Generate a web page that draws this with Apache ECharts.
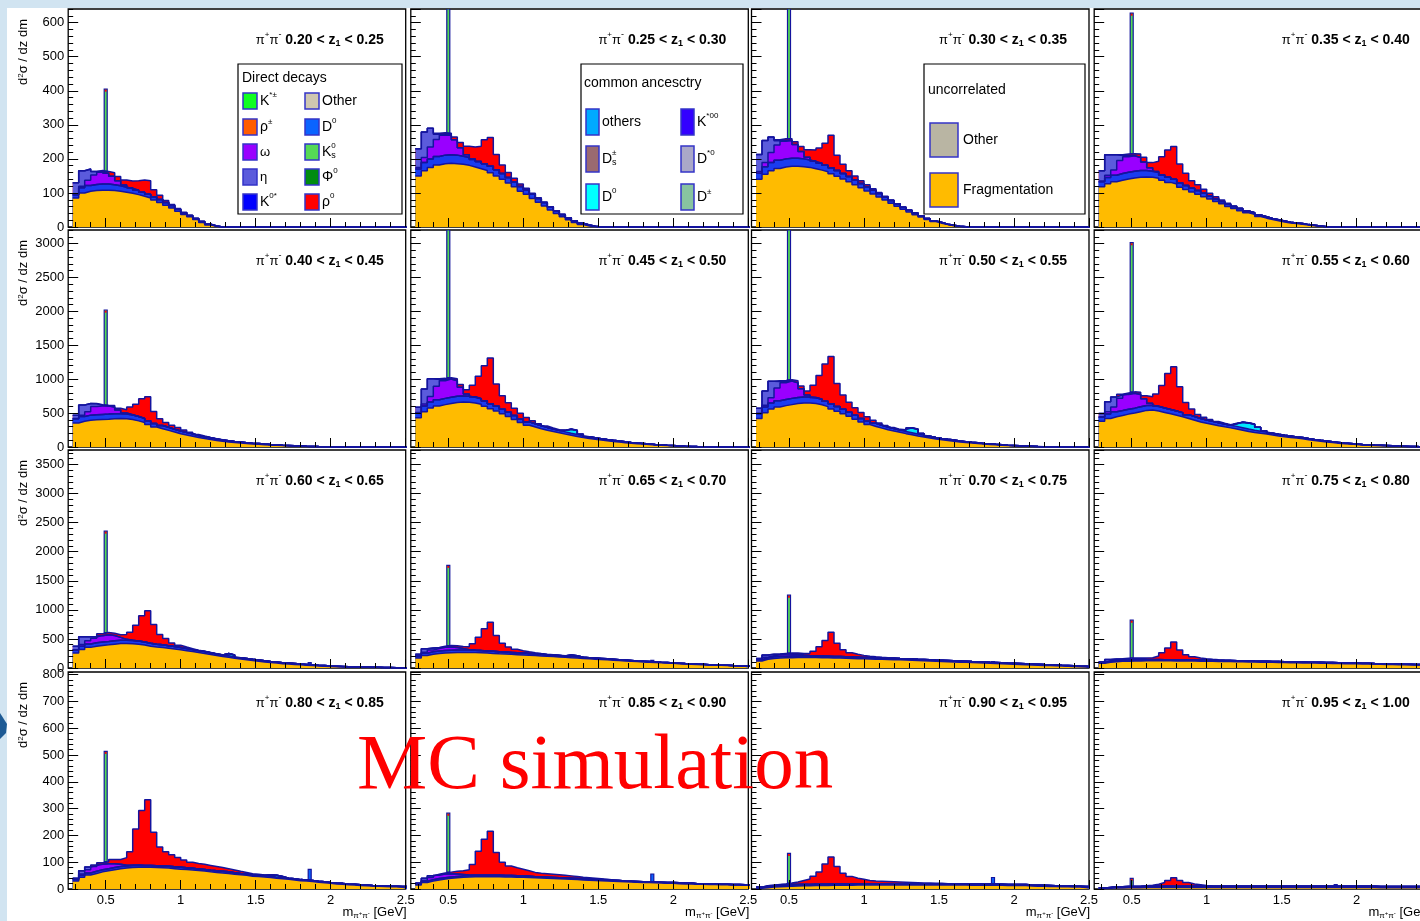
<!DOCTYPE html>
<html>
<head>
<meta charset="utf-8">
<script src="https://cdn.jsdelivr.net/npm/echarts@6/dist/echarts.min.js"></script>
<style>
html,body{margin:0;padding:0;background:#d1e4f1;}
#bg{position:absolute;left:7px;top:8px;width:1413px;height:913px;background:#fff;}
#chart{position:absolute;left:0;top:0;width:1420px;height:921px;}
</style>
</head>
<body>
<div id="bg"></div>
<div id="chart"></div>
<script>
// z1 bin edges of the 16 pads
var zEdges = ['0.20','0.25','0.30','0.35','0.40','0.45','0.50','0.55','0.60','0.65','0.70','0.75','0.80','0.85','0.90','0.95','1.00'];

// mass binning (GeV)
var binLow = 0.28, binWidth = 0.04, nBins = 56;

// y axis per row
var yMax = [640, 3200, 3750, 810];
var yMajor = [100, 500, 500, 100];
var yMinor = [20, 100, 100, 20];
// x ticks
var xMajorTicks = [0.5, 1, 1.5, 2, 2.5];
var xMinorTicks = [0.3,0.4,0.6,0.7,0.8,0.9,1.1,1.2,1.3,1.4,1.6,1.7,1.8,1.9,2.1,2.2,2.3,2.4];

// stacked layers, one row per pad, bins of 0.04 GeV starting at 0.28
var fragmentation = [
  [85,100,105,107,108,108,107,105,102,99,95,90,85,79,72,64,56,46,37,30,22,13,6,2],
  [150,165,175,182,186,187,186,184,181,176,171,166,159,150,140,129,118,105,96,84,73,62,50,40,30,21,13,7,3,1],
  [140,155,165,172,176,178,178,177,175,171,167,162,156,149,141,133,124,115,106,97,88,79,70,61,52,44,36,29,22,16,11,7,4,2,1],
  [118,127,133,137,141,144,146,147,146,143,137,131,126,117,110,103,96,89,82,75,68,60,54,48,42,37,31,26,22,18,15,12,10,8,6,4,2,1],
  [355,380,395,402,406,410,416,420,415,405,385,362,330,295,268,245,220,196,177,160,140,124,110,95,84,75,67,60,52,45,40,34,29,25,21,18,15,12,9,7,5,4,2,1],
  [430,520,575,605,625,640,655,662,660,650,630,600,565,530,490,450,405,360,320,295,270,248,228,210,190,172,155,140,126,113,102,91,81,72,64,56,49,43,37,31,26,21,17,13,10,7,5,3,2,1],
  [420,505,560,590,610,625,640,648,648,640,622,595,562,528,490,452,410,368,330,303,278,255,235,216,197,180,163,147,132,118,106,95,85,75,66,58,51,44,38,32,27,22,18,14,11,8,6,4,3,2,1],
  [380,420,447,465,485,500,520,540,545,530,510,490,468,447,420,395,370,350,332,314,297,282,266,248,230,215,203,192,178,163,150,141,131,122,108,96,85,75,65,57,49,43,37,31,27,23,20,17,13,10,8,6,4,2,1],
  [260,320,355,375,388,398,410,420,422,418,410,395,375,362,352,340,326,312,297,282,265,250,233,215,198,183,168,154,141,128,116,104,93,84,75,68,61,54,48,42,36,31,26,23,20,17,15,13,11,9,7,6,4,3,2,1],
  [170,215,238,250,258,262,266,268,268,266,262,257,251,245,240,235,230,225,220,214,208,202,196,190,183,176,170,164,158,152,146,140,134,128,122,116,110,105,100,95,90,85,80,75,70,66,62,58,54,50,46,43,40,37,34,31],
  [120,150,165,172,176,178,180,181,181,180,178,176,173,170,167,164,161,158,155,152,149,146,143,140,137,133,129,125,121,117,113,109,105,101,97,93,89,85,81,77,73,69,65,61,57,53,49,45,41,37,33,29,25,21,17,13],
  [80,98,108,114,118,120,122,123,124,124,124,123,122,121,120,119,118,116,115,113,112,110,108,106,105,103,101,99,97,96,94,92,90,88,86,84,83,81,79,77,75,73,71,69,67,65,63,61,59,57,55,53,51,49,47,45],
  [30,44,52,58,64,68,72,76,78,80,81,81,81,80,79,78,76,74,73,71,69,67,64,62,60,58,55,53,51,48,47,45,43,40,38,36,34,31,30,28,25,23,21,19,18,16,15,13,12,11,10,9,8,8,7,7],
  [15,24,30,34,37,40,42,44,45,46,46,46,46,46,45,45,44,44,43,42,41,40,39,38,37,36,35,34,33,32,31,30,29,28,27,26,25,24,24,23,22,21,21,20,19,19,18,18,17,17,16,16,15,15,14,14],
  [3,5,7,8,9,10,11,12,12,13,13,13,14,14,14,14,15,15,15,15,15,15,15,15,15,15,15,15,15,15,15,15,15,15,15,14,14,14,14,14,14,13,13,13,13,11,10,10,9,9,8,8,7,7,6,6],
  [2,3,4,4,5,5,5,6,6,6,6,6,6,6,6,6,6,6,6,6,6,6,6,6,6,6,6,6,6,6,6,6,6,6,6,6,6,6,6,6,6,6,6,6,6,6,5,5,5,5,5,5,5,5,5,5]
];

// K0*, D0 and the other thin blue contributions
var blueBand = [
  [10,15,17,18,18,18,17,16,15,14,13,12,11,10,9,8,7,6,5,4,3,3,2,1],
  [20,24,25,25,25,25,25,24,23,22,21,20,19,18,17,16,15,14,13,12,11,10,9,8,7,6,5,4,3,1],
  [18,22,24,24,24,24,24,23,22,21,20,19,18,17,16,15,14,13,12,11,10,9,8,7,6,5,5,4,3,2,2,1,1],
  [15,18,19,20,20,20,20,19,18,17,16,15,14,13,12,11,11,10,9,8,7,7,6,6,5,5,4,4,3,3,3,2,2,2,1,1,1],
  [60,70,75,75,75,75,75,72,70,67,64,60,56,52,48,45,42,40,37,34,31,28,25,22,20,18,16,14,12,11,10,9,8,7,6,5,4,3,2,2,1,1],
  [70,85,90,92,92,92,92,90,88,85,82,78,74,70,66,62,58,54,50,47,44,41,38,35,33,31,29,27,25,23,21,19,17,15,13,11,10,9,8,7,6,5,4,3,2,2,1,1],
  [70,84,90,91,92,92,91,90,88,85,81,78,74,70,66,62,58,54,50,47,44,41,38,35,33,31,29,27,25,23,21,19,17,15,13,11,10,9,8,7,6,5,4,3,2,2,1,1],
  [60,68,72,73,73,73,73,72,70,68,66,64,62,60,57,54,51,48,46,44,42,40,38,36,34,32,30,28,26,24,22,20,18,17,16,15,14,13,12,11,10,9,8,7,6,5,5,4,4,3,3,2,2,1,1],
  [50,56,58,58,58,58,58,57,56,55,54,52,50,48,46,44,42,40,38,36,34,32,30,28,27,26,25,24,23,22,21,20,19,18,17,16,15,14,13,12,11,10,9,8,7,6,6,5,5,4,4,3,3,2,2,1],
  [35,40,42,42,42,42,42,41,40,39,38,37,36,35,34,33,32,31,30,29,28,27,26,25,24,23,22,21,20,19,18,17,16,15,14,13,12,11,10,9,8,8,7,7,6,6,5,5,4,4,3,3,2,2,1,1],
  [22,26,28,28,28,28,28,28,27,27,27,26,26,26,25,25,25,24,24,24,23,23,23,22,22,22,21,21,21,20,20,20,19,19,19,18,18,18,17,17,17,16,16,16,15,15,15,14,14,14,13,13,13,12,12,12],
  [15,18,20,20,20,20,20,20,20,20,19,19,19,19,19,18,18,18,18,18,17,17,17,17,17,16,16,16,16,16,15,15,15,15,15,14,14,14,14,14,13,13,13,13,13,12,12,12,12,12,11,11,11,11,11,10],
  [6,7,8,8,8,8,8,8,8,8,8,7,7,7,7,7,7,7,6,6,6,6,6,6,6,6,6,5,5,5,5,5,5,5,5,4,4,4,4,4,4,4,3,3,3,3,3,3,3,2,2,2,2,2,2,2],
  [4,5,5,5,5,5,5,5,5,5,5,5,5,5,5,5,5,5,5,4,4,4,4,4,4,4,4,4,4,4,4,4,4,4,3,3,3,3,3,3,3,3,3,3,3,3,2,2,2,2,2,2,2,2,2,2],
  [3,4,4,5,5,5,5,5,5,5,5,5,5,5,5,5,5,5,5,5,5,5,5,5,5,5,5,5,5,5,5,5,5,5,5,5,5,5,5,5,4,4,4,4,4,4,4,4,4,3,3,3,3,3,3,3],
  [2,3,4,4,4,4,4,4,4,4,4,4,4,4,4,4,4,4,4,4,4,4,4,4,4,4,4,4,4,4,4,4,4,4,4,4,4,4,4,4,4,4,4,4,4,4,4,4,4,4,4,4,4,4,4,4]
];

// common-ancestry cyan bits: first bin index and values
var cyanFrom = [0,0,0,0, 0,24,24,22, 25,25,0,0, 32,0,0,0];
var cyanBits = [[],[],[],[], [],[20,60,60,20],[20,70,70,25],[40,80,90,90,60,20], [40,30],[25,20],[],[], [4,6,4],[],[],[]];

var omega = [
  [0,5,15,28,35,32,25,15,6,2],
  [5,15,35,50,58,58,45,25,8,2],
  [5,12,30,45,52,52,40,22,8,2],
  [2,7,15,38,45,45,38,25,10,3],
  [5,20,50,120,125,120,100,55,15,3],
  [8,30,80,200,260,270,230,130,35,5],
  [8,28,75,190,245,255,215,120,30,5],
  [5,30,70,180,215,220,180,100,30,5],
  [5,30,55,80,110,115,90,50,15,3],
  [3,15,30,45,55,58,45,25,8,2],
  [2,8,18,28,35,35,28,15,5,1],
  [1,5,10,16,20,20,16,9,3,1],
  [0,5,12,18,20,18,14,8,3,1],
  [0,3,8,12,14,12,9,5,2],
  [0,1,2,3,3,3,2,1],
  []
];

var eta = [
  [35,45,33,10,3],
  [55,75,55,15,4],
  [50,65,45,12,3],
  [30,60,45,15,4],
  [50,150,120,40,10],
  [80,220,260,100,20],
  [75,210,245,95,20],
  [50,150,150,50,10],
  [60,130,70,20,5],
  [30,60,35,10,3],
  [20,40,25,8,2],
  [12,25,15,5,1],
  [4,12,10,4],
  [3,8,6,2],
  [1,2,1],
  []
];

var rho0 = [
  [0,0,0,0,2,5,10,12,15,20,28,36,40,20,12,6,3,2,1],
  [0,0,0,3,4,5,8,15,25,35,45,70,85,45,25,15,10,7,5,3,2,1],
  [0,0,0,3,4,5,8,14,22,32,45,65,95,45,27,17,12,8,6,4,3,2,1],
  [0,0,0,2,4,6,10,14,15,30,53,80,96,55,36,22,17,12,8,6,4,3,2,1],
  [0,0,0,5,8,10,20,25,50,115,180,290,356,175,100,70,60,50,37,25,15,10,6,4,2,1],
  [0,0,0,10,15,20,30,40,60,170,330,520,675,330,200,140,110,85,65,45,30,20,14,9,6,4,2,1],
  [0,0,0,10,15,20,30,40,60,180,350,550,700,340,210,145,112,88,66,46,31,21,14,9,6,4,2,1],
  [0,0,0,10,15,20,35,45,95,180,330,530,654,380,180,110,60,42,28,18,12,8,5,3,2,1],
  [0,0,0,5,30,40,40,45,85,140,270,450,558,340,180,125,62,40,25,12,8,5,3,2,1],
  [0,0,0,5,15,25,30,35,50,110,230,380,500,280,150,95,62,42,28,18,12,8,5,3,2,1],
  [0,0,0,5,10,15,20,25,40,80,160,270,415,230,120,75,50,35,25,17,12,8,5,3,2,1],
  [0,0,0,4,8,12,15,20,30,60,120,200,305,170,90,55,37,25,17,12,8,5,3,2,1],
  [0,0,0,2,6,8,16,18,28,50,135,205,245,125,71,54,45,37,29,23,20,19,18,16,14,12,10,8,6,4,3,2,1],
  [0,0,0,2,4,6,10,14,20,40,90,135,165,85,50,36,30,25,20,16,14,13,12,11,10,9,8,6,5,4,3,2,1],
  [0,0,0,1,2,4,8,14,20,30,45,75,100,65,40,28,20,16,12,10,9,8,7,6,5,4,3,2,2,1,1],
  [0,0,0,0,0,0,1,2,4,8,14,22,32,22,14,9,6,3,1]
];

// narrow peaks: K0s at 0.50 and D0 at 1.86 (top of the stack)
var kShortTop = [405,700,700,628, 2020,3500,3500,3013, 2356,1767,1252,823, 514,283,133,40];
var dZeroTop  = [0,0,0,0, 0,0,0,0, 92,130,110,90, 73,56,43,16];

var FONT = '"Liberation Sans", Arial, Helvetica, sans-serif';
var OUTLINE = '#14149e';
var gridLeft = [68.2, 410.8, 751.5, 1094.2];
var gridTop = [9, 230, 450, 672];
var gridHeight = [218, 217, 218, 217];
var gridWidth = 337.5;

var measure = document.createElement('canvas').getContext('2d');
function tw(s, size, bold) {
  measure.font = (bold ? 'bold ' : '') + size + 'px ' + FONT;
  return measure.measureText(s).width;
}
// lay text pieces on a line (for super/subscripts)
function richLine(x, y, pieces, align, z) {
  var ws = pieces.map(function (p) { return p.adv === false ? 0 : tw(p.t, p.s, p.b); });
  var total = ws.reduce(function (a, b) { return a + b; }, 0);
  var cx = align === 'right' ? x - total : x;
  var out = [];
  pieces.forEach(function (p, i) {
    out.push({type: 'text', z: z || 50, x: cx, y: y + (p.dy || 0), silent: true,
      style: {text: p.t, fontSize: p.s, fontWeight: p.b ? 'bold' : 'normal', fontFamily: FONT,
        fill: p.c || '#000', align: 'left', verticalAlign: 'middle'}});
    cx += ws[i];
  });
  return out;
}

var edges = [];
for (var k = 0; k <= nBins; k++) edges.push(+(binLow + k * binWidth).toFixed(2));

function layerVal(p, name, k) {
  if (name === 'cyan') {
    var j = k - cyanFrom[p];
    return j >= 0 && j < cyanBits[p].length ? cyanBits[p][j] : 0;
  }
  var arr = {frag: fragmentation, band: blueBand, omega: omega, eta: eta, rho: rho0}[name][p];
  return arr[k] || 0;
}
// bottom to top
var layers = [
  {key: 'frag', name: 'Fragmentation', color: '#ffbb00'},
  {key: 'band', name: 'K0* / D0', color: '#1a3cf0'},
  {key: 'cyan', name: 'D0 common', color: '#00e8ff'},
  {key: 'omega', name: 'omega', color: '#9900ff'},
  {key: 'eta', name: 'eta', color: '#5b5bdc'},
  {key: 'rho', name: 'rho0', color: '#ff0000'}
];
// cumulative top of layer li in bin k
function cumulative(p, li, k) {
  var s = 0;
  for (var i = 0; i <= li; i++) s += layerVal(p, layers[i].key, k);
  return s;
}

var grids = [], xAxes = [], yAxes = [], series = [], graphics = [];
var labelStyle = {color: '#000', fontSize: 13, fontFamily: FONT};

for (var p = 0; p < 16; p++) {
  var r = Math.floor(p / 4), c = p % 4;
  grids.push({left: gridLeft[c], top: gridTop[r], width: gridWidth, height: gridHeight[r],
    outerBoundsMode: 'none', containLabel: false,
    show: true, borderColor: '#000', borderWidth: 1.3, backgroundColor: 'transparent'});

  // axes are drawn above the histograms, as in the original pads
  xAxes.push({gridIndex: p, type: 'value', min: 0.25, max: 2.5, position: 'bottom', z: 10,
    axisLine: {show: false, onZero: false}, splitLine: {show: false},
    axisTick: {inside: true, length: 9, lineStyle: {color: '#000', width: 1}, customValues: xMajorTicks},
    axisLabel: Object.assign({show: r === 3, margin: 5, customValues: xMajorTicks}, labelStyle)});
  xAxes.push({gridIndex: p, type: 'value', min: 0.25, max: 2.5, position: 'bottom', z: 10,
    axisLine: {show: false, onZero: false}, splitLine: {show: false},
    axisTick: {inside: true, length: 5, lineStyle: {color: '#000', width: 1}, customValues: xMinorTicks},
    axisLabel: {show: false}});
  yAxes.push({gridIndex: p, type: 'value', min: 0, max: yMax[r], interval: yMajor[r], position: 'left', z: 10,
    axisLine: {show: false, onZero: false}, splitLine: {show: false},
    axisTick: {inside: true, length: 10, lineStyle: {color: '#000', width: 1}},
    axisLabel: Object.assign({show: c === 0, margin: 4, showMaxLabel: false,
      formatter: function (v) { return String(v); }}, labelStyle)});
  yAxes.push({gridIndex: p, type: 'value', min: 0, max: yMax[r], interval: yMinor[r], position: 'left', z: 10,
    axisLine: {show: false, onZero: false}, splitLine: {show: false},
    axisTick: {inside: true, length: 5, lineStyle: {color: '#000', width: 1}},
    axisLabel: {show: false}});

  // painter's order: the full stack first, then each lower partial sum on top of it
  for (var li = layers.length - 1; li >= 0; li--) {
    series.push({
      type: 'line', name: layers[li].name, xAxisIndex: 2 * p, yAxisIndex: 2 * p,
      step: 'end', symbol: 'none', silent: true, clip: true, animation: false,
      lineStyle: {color: OUTLINE, width: 1.5},
      areaStyle: {color: layers[li].color, opacity: 1},
      data: edges.map(function (x, k) { return [x, k < nBins ? cumulative(p, li, k) : 0]; })
    });
  }

  // narrow peaks on top of the stack
  var peaks = [[0.49, 0.51, cumulative(p, layers.length - 1, 5), kShortTop[p], '#55d955']];
  if (dZeroTop[p] > 0) peaks.push([1.85, 1.87, cumulative(p, layers.length - 1, 39), dZeroTop[p], '#0a64ff']);
  series.push({
    type: 'custom', xAxisIndex: 2 * p, yAxisIndex: 2 * p, silent: true, animation: false, clip: true, z: 3,
    data: peaks.map(function (d) { return d.slice(0, 4); }),
    renderItem: (function (peaks) {
      return function (params, api) {
        var a = api.coord([api.value(0), api.value(3)]);
        var b = api.coord([api.value(1), api.value(2)]);
        var cs = params.coordSys;
        var top = Math.max(a[1], cs.y);
        var kids = [{type: 'rect', shape: {x: a[0], y: top, width: b[0] - a[0], height: b[1] - top},
          style: {fill: peaks[params.dataIndex][4], stroke: OUTLINE, lineWidth: 1.2}}];
        if (params.dataIndex === 0 && a[1] > cs.y + 2) {
          kids.push({type: 'rect', shape: {x: a[0] + 0.6, y: a[1] + 0.6, width: b[0] - a[0] - 1.2, height: 2},
            style: {fill: '#ff0000'}});
        }
        return {type: 'group', children: kids};
      };
    })(peaks)
  });

  // pad title
  var xr = gridLeft[c] + gridWidth - 22, yc = gridTop[r] + 31;
  graphics = graphics.concat(richLine(xr, yc, [
    {t: 'π', s: 13}, {t: '+', s: 8, dy: -5}, {t: 'π', s: 13}, {t: '-', s: 9, dy: -5},
    {t: ' ' + zEdges[p] + ' < z', s: 14, b: 1}, {t: '1', s: 9, b: 1, dy: 4},
    {t: ' < ' + zEdges[p + 1], s: 14, b: 1}
  ], 'right'));
}

// y axis titles
for (var rr = 0; rr < 4; rr++) {
  graphics.push({type: 'text', z: 50, x: 23, y: gridTop[rr] + 43, rotation: Math.PI / 2, silent: true,
    style: {text: '{a|d}{s|2}{a|σ / dz dm}', align: 'center', verticalAlign: 'middle',
      rich: {a: {fontSize: 13, fontFamily: FONT, fill: '#000'},
             s: {fontSize: 8, fontFamily: FONT, fill: '#000', verticalAlign: 'top'}}}});
}
// x axis titles
for (var cc = 0; cc < 4; cc++) {
  graphics = graphics.concat(richLine(gridLeft[cc] + gridWidth + 1, 912, [
    {t: 'm', s: 13}, {t: 'π', s: 8, dy: 4}, {t: '+', s: 6, dy: 1}, {t: 'π', s: 8, dy: 4}, {t: '-', s: 6, dy: 1},
    {t: ' [GeV]', s: 13}
  ], 'right'));
}

// legends
function box(x, y, w, h) {
  return {type: 'rect', z: 40, silent: true, shape: {x: x, y: y, width: w, height: h},
    style: {fill: '#fff', stroke: '#000', lineWidth: 1.2}};
}
function swatch(x, y, w, h, color) {
  return {type: 'rect', z: 45, silent: true, shape: {x: x, y: y, width: w, height: h},
    style: {fill: color, stroke: '#3434c8', lineWidth: 1.5}};
}
var legendDirect = [
  {x: 243, y: 101, color: '#11ff22', label: [{t: 'K', s: 14}, {t: '*±', s: 8, dy: -6}]},
  {x: 243, y: 127, color: '#ff5c00', label: [{t: 'ρ', s: 14}, {t: '±', s: 8, dy: -5}]},
  {x: 243, y: 152, color: '#9900ff', label: [{t: 'ω', s: 13}]},
  {x: 243, y: 177, color: '#5b5bdc', label: [{t: 'η', s: 13}]},
  {x: 243, y: 202, color: '#0000ff', label: [{t: 'K', s: 14}, {t: '0*', s: 8, dy: -6}]},
  {x: 305, y: 101, color: '#cfc7b0', label: [{t: 'Other', s: 14}]},
  {x: 305, y: 127, color: '#0a64ff', label: [{t: 'D', s: 14}, {t: '0', s: 8, dy: -6}]},
  {x: 305, y: 152, color: '#55d955', label: [{t: 'K', s: 14}, {t: '0', s: 8, dy: -6, adv: false}, {t: 's', s: 9, dy: 4}]},
  {x: 305, y: 177, color: '#008c10', label: [{t: 'Φ', s: 14}, {t: '0', s: 8, dy: -6}]},
  {x: 305, y: 202, color: '#ff0000', label: [{t: 'ρ', s: 14}, {t: '0', s: 8, dy: -6}]}
];
var legendCommon = [
  {x: 586, y: 122, color: '#00aaff', label: [{t: 'others', s: 14}]},
  {x: 586, y: 159, color: '#9a6a70', label: [{t: 'D', s: 14}, {t: '±', s: 8, dy: -6, adv: false}, {t: 's', s: 9, dy: 4}]},
  {x: 586, y: 197, color: '#00ffff', label: [{t: 'D', s: 14}, {t: '0', s: 8, dy: -6}]},
  {x: 681, y: 122, color: '#3300ff', label: [{t: 'K', s: 14}, {t: '*00', s: 8, dy: -6}]},
  {x: 681, y: 159, color: '#aaa8c8', label: [{t: 'D', s: 14}, {t: '*0', s: 8, dy: -6}]},
  {x: 681, y: 197, color: '#88c4a0', label: [{t: 'D', s: 14}, {t: '±', s: 8, dy: -5}]}
];
var legendUncorr = [
  {x: 930, y: 140, color: '#b9b5a3', label: [{t: 'Other', s: 14}]},
  {x: 930, y: 190, color: '#ffbb00', label: [{t: 'Fragmentation', s: 14}]}
];

graphics.push(box(238, 64, 164, 150));
graphics = graphics.concat(richLine(242, 78, [{t: 'Direct decays', s: 14}], 'left', 46));
legendDirect.forEach(function (e) {
  graphics.push(swatch(e.x, e.y - 8, 14, 16, e.color));
  graphics = graphics.concat(richLine(e.x + 17, e.y, e.label, 'left', 46));
});
graphics.push(box(581, 64, 162, 150));
graphics = graphics.concat(richLine(584, 83, [{t: 'common ancesctry', s: 14}], 'left', 46));
legendCommon.forEach(function (e) {
  graphics.push(swatch(e.x, e.y - 13, 13, 26, e.color));
  graphics = graphics.concat(richLine(e.x + 16, e.y, e.label, 'left', 46));
});
graphics.push(box(924, 64, 161, 150));
graphics = graphics.concat(richLine(928, 90, [{t: 'uncorrelated', s: 14}], 'left', 46));
legendUncorr.forEach(function (e) {
  graphics.push(swatch(e.x, e.y - 17, 28, 34, e.color));
  graphics = graphics.concat(richLine(e.x + 33, e.y, e.label, 'left', 46));
});

// overlay label and the slide decoration on the left edge
graphics.push({type: 'text', z: 60, x: 357, y: 767, silent: true,
  style: {text: 'MC simulation', fontSize: 79, fontFamily: '"Liberation Serif", "Times New Roman", serif',
    fill: '#ff0000', align: 'left', verticalAlign: 'middle'}});
graphics.push({type: 'polygon', z: 60, silent: true,
  shape: {points: [[0, 713], [7, 724], [6, 733], [0, 739]]}, style: {fill: '#1d5a94'}});

var chart = echarts.init(document.getElementById('chart'), null, {renderer: 'canvas'});
chart.setOption({
  animation: false,
  backgroundColor: 'transparent',
  grid: grids,
  xAxis: xAxes,
  yAxis: yAxes,
  series: series,
  graphic: {elements: graphics}
});
</script>
</body>
</html>
